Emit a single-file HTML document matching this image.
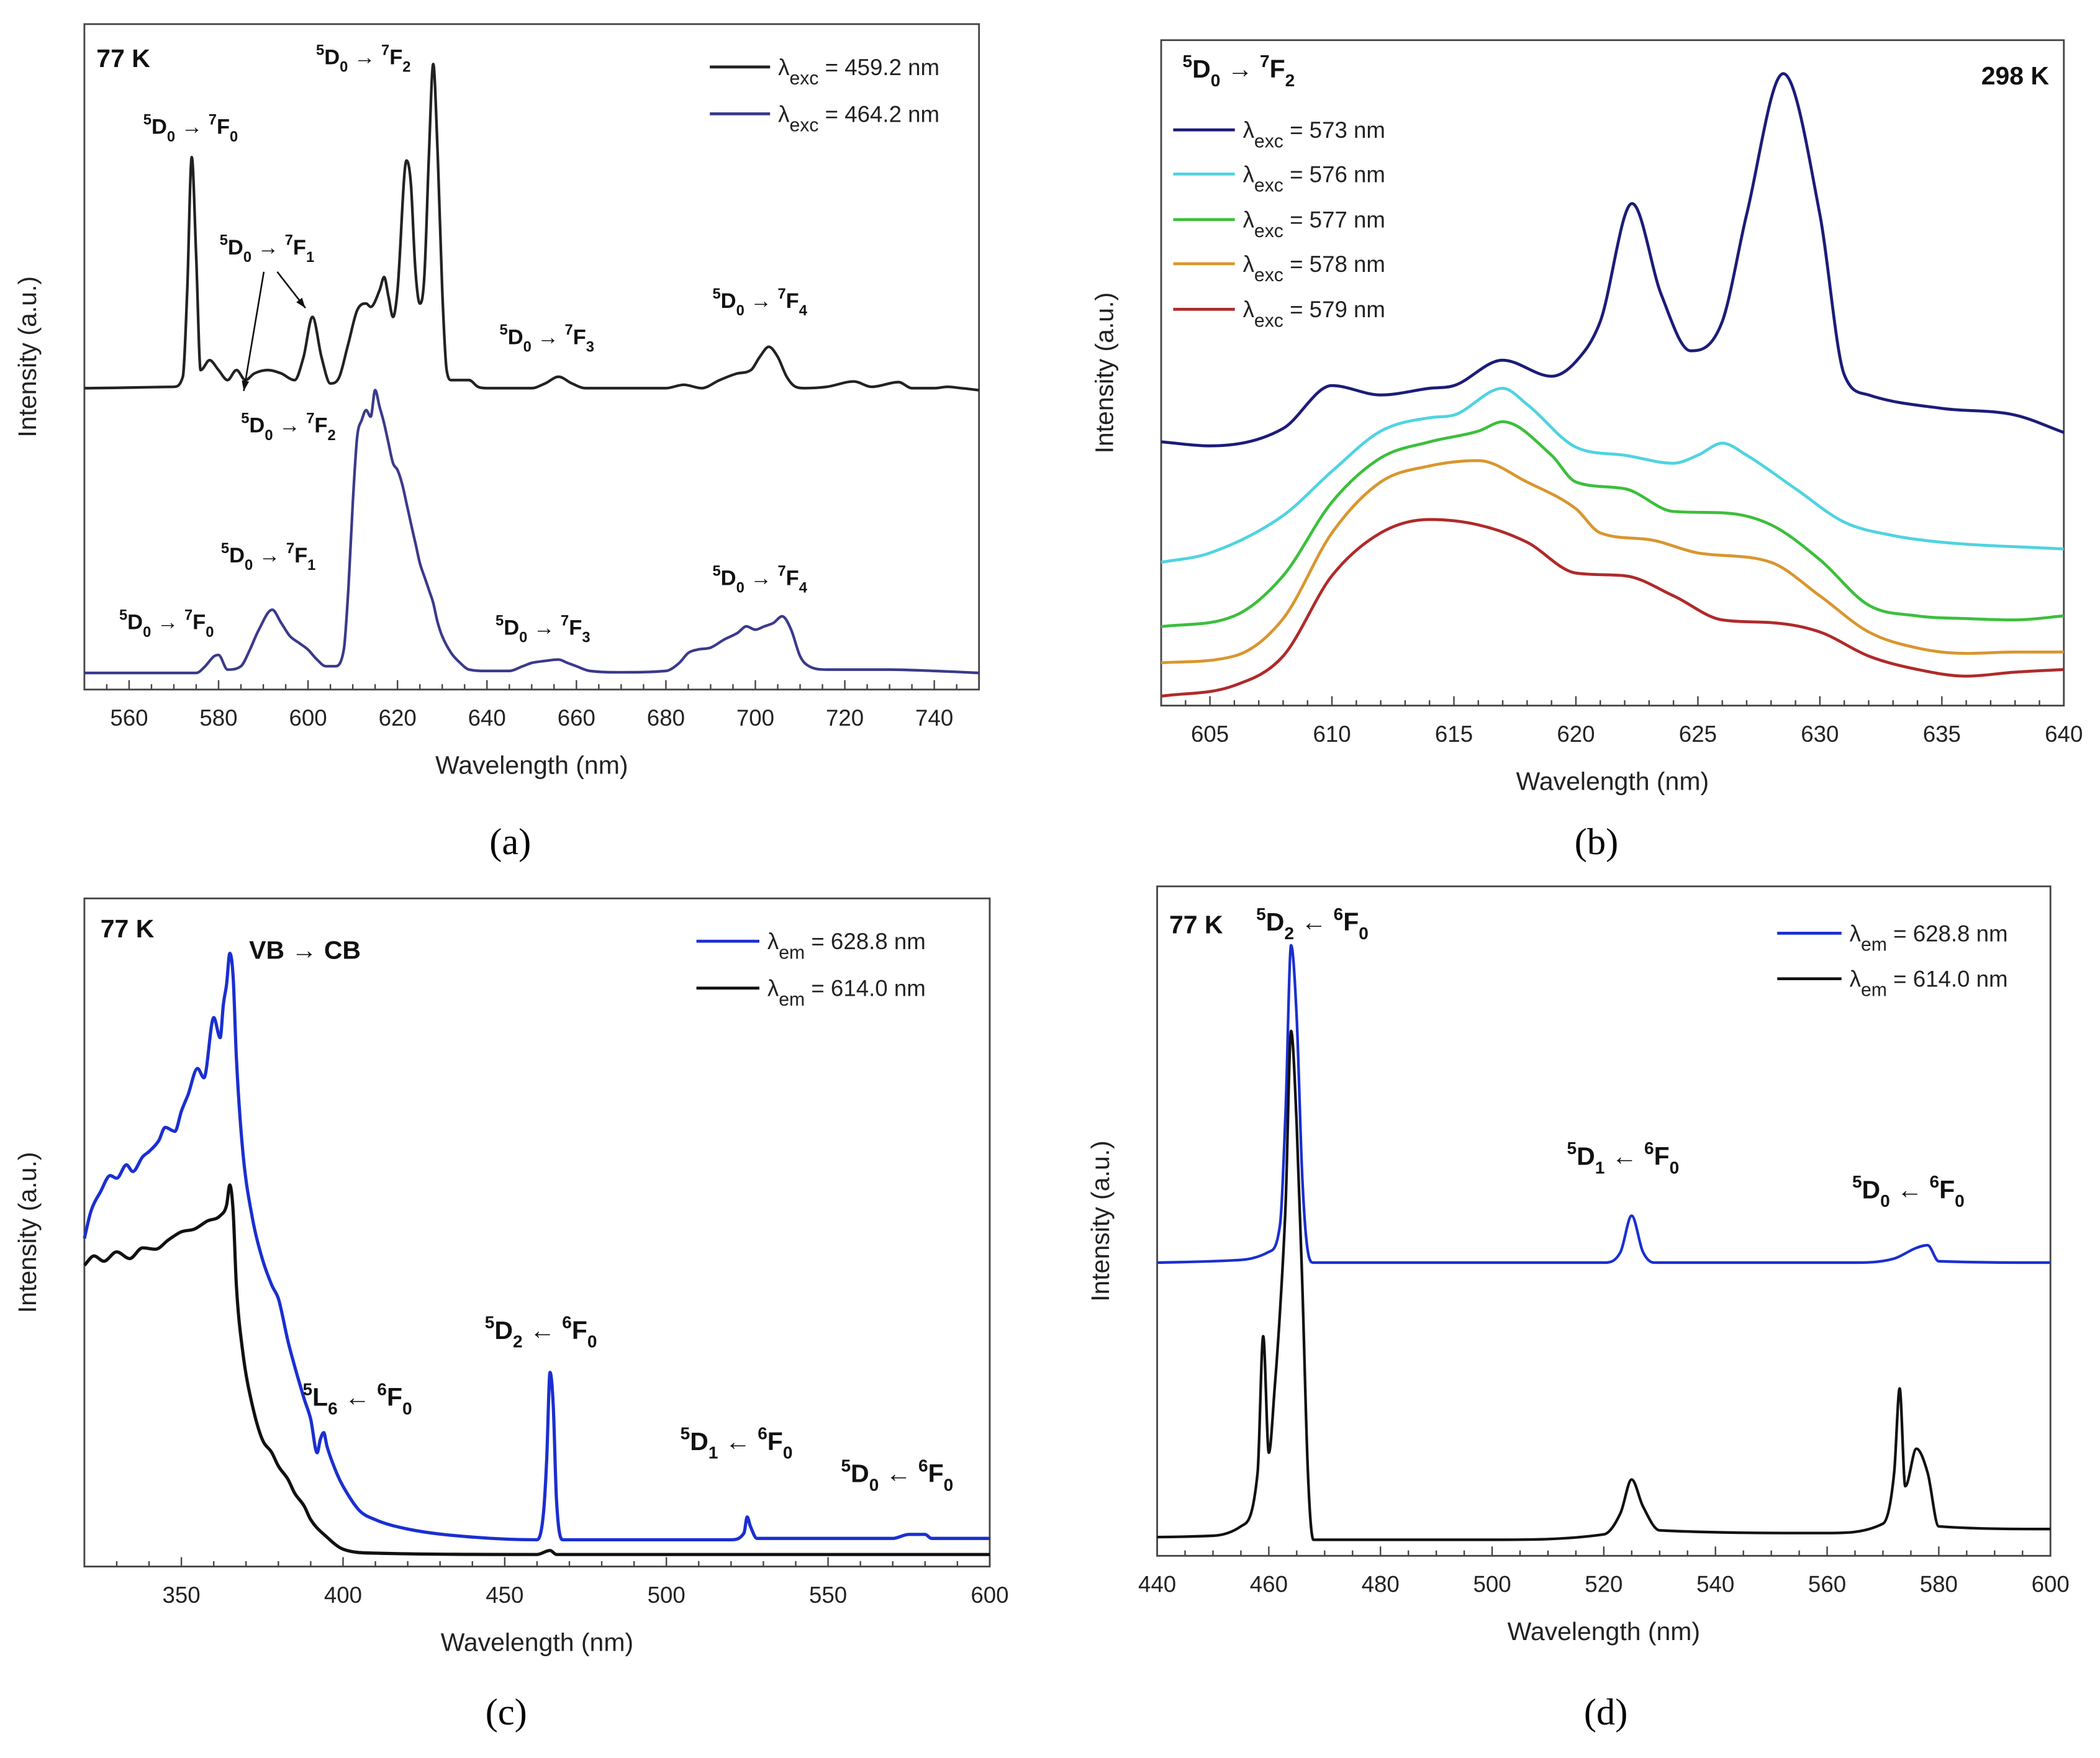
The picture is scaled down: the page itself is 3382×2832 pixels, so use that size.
<!DOCTYPE html>
<html><head><meta charset="utf-8">
<style>
html,body{margin:0;padding:0;background:#fff;}
svg{display:block;}
text{font-family:"Liberation Sans","DejaVu Sans",sans-serif;fill:#111;}
.tick{font-size:17px;fill:#222;}
.title{font-size:19px;fill:#222;}
.ann{font-size:16px;font-weight:bold;}
.big{font-size:19px;font-weight:bold;}
.leg{font-size:17px;fill:#222;}
.plab{font-family:"Liberation Serif",serif;font-size:28px;fill:#000;}
</style></head>
<body>
<svg id="fig" width="3382" height="2832" viewBox="0 0 1568 1313" preserveAspectRatio="none" xmlns="http://www.w3.org/2000/svg">
<rect width="1568" height="1313" fill="#fff"/>
</svg>
<script>
// ---------- Panel (a) data: wavelength (nm) and intensity (% of plot height) ----------
const aBlackX=[550,570,572,573,574,575,576,578,580,582,584,586,588,591,594,597,599,601,603,605,607,609,611,613,614,616,617,618,619,620,622,623,624,625,626,627,628,629,630,631,632,636,638,640,650,653,656,659,662,680,684,688,692,696,699,701,703,705,707,709,711,716,722,726,732,735,740,743,746,750];
const aBlackY=[45.3,45.5,47,60,80,65,48,49.5,48,46.5,48,46.5,47.5,48,47.5,46.5,50,56,50,46,47,52,57,58,57.5,60,62,59,56,60,79.5,76,63,58,62,80,94,80,60,48,46.5,46.5,45.5,45.3,45.3,46,47,46,45.3,45.3,45.8,45.3,46.5,47.5,48,50,51.5,50,47,45.5,45.3,45.5,46.3,45.5,46.2,45.3,45.3,45.5,45.3,45];
const aBlueX=[550,575,577,579,580,582,585,587,589,592,594,596,598,600,602,604,606,608,609,610,611,612,613,614,615,616,617,618,619,620,621,622,623,624,625,626,627,628,629,630,632,634,636,640,645,648,650,653,656,658,660,663,670,680,683,685,687,690,693,696,698,700,702,704,706,708,710,712,716,730,740,750];
const aBlueY=[2.5,2.5,3.5,5,5.2,3,3.5,6,9,12,10,8,7,6,4.5,3.5,3.5,6,15,28,38,40.5,42,41,45,42.5,40,37,34,33,31,28,25,22,19,17,15,13,10,8,5.5,4,3,2.8,2.8,3.5,4,4.3,4.5,4,3.5,2.8,2.6,2.8,4,5.5,6,6.3,7.5,8.5,9.5,9,9.5,10,11,9,5,3.5,3,3,2.8,2.5];
const aTicks=[560,580,600,620,640,660,680,700,720,740];

// ---------- Panel (b) data (intensity, arbitrary units 0..497) ----------
const bX1=[603,605,608,610,612,614,615,617,619,620,621,622.3,623.5,624.7,626,627,628.5,630,631,632,635,638,640];
const bY1=[197,194,207,239,232,237,239,258,246,257,287,375,307,265,287,367,472,367,247,232,222,217,204];
const bX2=[603,605,608,610,612,614,615,617,618,620,622,624,625,626,627,629,631,633,635,640];
const bY2=[107,114,142,175,205,215,217,237,225,193,187,181,187,196,187,162,137,127,122,117];
const bX3=[603,606,608,610,612,614,616,617,619,620,622,624,626,628,630,632,634,636,638,640];
const bY3=[59,67,97,152,185,197,205,212,187,167,162,145,144,135,109,75,67,65,64,67];
const bX4=[603,606,608,610,612,614,616,618,620,621,623,625,628,630,632,634,636,638,640];
const bY4=[32,37,65,129,167,179,183,167,147,129,124,114,107,82,55,43,39,40,40];
const bX5=[603,606,608,610,612,614,616,618,620,622,624,626,628,630,632,634,636,638,640];
const bY5=[7,15,37,97,129,139,135,122,99,97,82,64,62,55,37,27,22,25,27];
const bTicks=[605,610,615,620,625,630,635,640];

// ---------- Panel (c) data (intensity 0..499) ----------
const cBlueX=[320,322,325,328,330,333,335,338,340,343,345,348,350,352,355,357,360,362,363,364,365,366,367,369,372,375,378,380,383,385,388,390,392,393,394,395,398,400,405,410,420,440,460,462,463,464,465,466,468,520,524,525,526,528,570,575,580,582,600];
const cBlueY=[245,265,280,292,290,300,295,306,310,318,328,325,340,352,372,365,410,395,420,435,458,440,380,310,260,230,210,200,168,150,125,110,85,95,100,90,70,60,42,35,28,22,20,40,80,145,120,50,20,20,25,37,30,21,21,24,24,21,21];
const cBlackX=[320,323,326,330,334,338,342,346,350,354,358,362,364,365,366,367,369,372,375,378,380,383,385,388,390,395,400,410,460,464,466,600];
const cBlackY=[225,232,228,235,230,238,237,244,250,252,258,262,270,285,265,210,160,120,95,85,75,65,55,45,35,22,13,10,9,12,9,9];
const cTicks=[350,400,450,500,550,600];

// ---------- Panel (d) data (intensity 0..500) ----------
const dBlueX=[440,455,460,462,463,464,465,466,467,468,520,523,525,527,529,565,572,576,578,580,600];
const dBlueY=[219,221,227,247,332,456,402,282,227,219,219,227,254,227,219,219,222,230,232,220,219];
const dBlackX=[440,450,455,458,459,460,461,462,463,464,465,466,467,468,500,520,523,525,527,530,560,570,572,573,574,576,578,580,600];
const dBlackY=[14,15,22,62,164,77,122,182,262,392,322,202,62,12,12,16,32,57,37,19,17,24,62,125,52,80,62,22,20];
const dTicks=[440,460,480,500,520,540,560,580,600];

const NS="http://www.w3.org/2000/svg";
const svg=document.getElementById('fig');
function el(tag,attrs,parent){const e=document.createElementNS(NS,tag);for(const k in attrs)e.setAttribute(k,attrs[k]);(parent||svg).appendChild(e);return e;}

function makeAxes(p){
  const xs=v=>p.l+(v-p.x0)/(p.x1-p.x0)*(p.r-p.l);
  const ys=v=>p.b-(v-p.y0)/(p.y1-p.y0)*(p.b-p.t);
  return {xs,ys};
}
function panel(p,id){
  const g=el('g',{});
  
  
  const box=el('rect',{x:p.l,y:p.t,width:p.r-p.l,height:p.b-p.t,fill:'none',stroke:'#444','stroke-width':1.3},g);
  
  
  const {xs}=makeAxes(p);
  for(let v=p.x0;v<=p.x1+1e-6;v+=p.minor){
    const isMaj=p.ticks.some(t=>Math.abs(t-v)<1e-6);
    const x=xs(v);
    const tk=el('line',{x1:x,x2:x,y1:p.b,y2:p.b-(isMaj?7:4),stroke:'#444','stroke-width':1.1},g);
    
    
  }
  p.ticks.forEach(t=>{
    const tx=el('text',{x:xs(t),y:p.b+27,'text-anchor':'middle',class:'tick'},g);
    tx.textContent=t;
    
    
  });
  const xt=el('text',{x:(p.l+p.r)/2,y:p.b+63,'text-anchor':'middle',class:'title'},g);
  xt.textContent='Wavelength (nm)';
  
  
  const yx=p.l-36, yy=(p.t+p.b)/2;
  const yt=el('text',{x:yx,y:yy,'text-anchor':'middle',class:'title',transform:`rotate(-90 ${yx} ${yy})`},g);
  yt.textContent='Intensity (a.u.)';
  
  
  const pl=el('text',{x:p.lx,y:p.ly,'text-anchor':'middle',class:'plab'},g);
  pl.textContent='('+id.slice(-1)+')';
  
  
  return g;
}
// monotone cubic path
function monoPath(px,py){
  const n=px.length;
  if(n<3) return px.map((x,i)=>(i?'L':'M')+x+' '+py[i]).join(' ');
  const d=[],m=new Array(n);
  for(let i=0;i<n-1;i++) d.push((py[i+1]-py[i])/(px[i+1]-px[i]));
  m[0]=d[0];m[n-1]=d[n-2];
  for(let i=1;i<n-1;i++){ m[i]=(d[i-1]*d[i]<=0)?0:(d[i-1]+d[i])/2; }
  for(let i=0;i<n-1;i++){
    if(d[i]===0){m[i]=0;m[i+1]=0;continue;}
    const a=m[i]/d[i],b=m[i+1]/d[i],s=a*a+b*b;
    if(s>9){const t=3/Math.sqrt(s);m[i]=t*a*d[i];m[i+1]=t*b*d[i];}
  }
  let s='M'+px[0].toFixed(1)+' '+py[0].toFixed(1);
  for(let i=0;i<n-1;i++){
    const h=(px[i+1]-px[i])/3;
    s+=` C${(px[i]+h).toFixed(1)} ${(py[i]+m[i]*h).toFixed(1)} ${(px[i+1]-h).toFixed(1)} ${(py[i+1]-m[i+1]*h).toFixed(1)} ${px[i+1].toFixed(1)} ${py[i+1].toFixed(1)}`;
  }
  return s;
}
function series(p,X,Y,color,name,w){
  const {xs,ys}=makeAxes(p);
  const d=monoPath(X.map(xs),Y.map(ys));
  const path=el('path',{d,fill:'none',stroke:color,'stroke-width':w||2,'stroke-linejoin':'round'});
  
  
}
function legend(x1,x2,y,color,sym,sub,rest,name){
  const ln=el('line',{x1,x2,y1:y,y2:y,stroke:color,'stroke-width':2.2});
  
  
  const t=el('text',{x:x2+6,y:y+6,class:'leg'});
  
  
  const a=el('tspan',{},t);a.textContent=sym;
  const b=el('tspan',{dy:7,'font-size':14},t);b.textContent=sub;
  const c=el('tspan',{dy:-7},t);c.textContent=rest;
}
function trans(x,y,s1,L1,b1,arrow,s2,L2,b2,name,cls){
  const big=cls==='big';
  const t=el('text',{x,y,class:cls||'ann'});
  
  
  const sd=big?8:7, fs=big?13:11;
  const parts=[[s1,-sd,fs],[L1,sd,null],[b1,sd*0.8,fs],[arrow,-sd*0.8,null],[s2,-sd,fs],[L2,sd,null],[b2,sd*0.8,fs]];
  parts.forEach(([txt,dy,f])=>{const s=el('tspan',{dy},t);if(f)s.setAttribute('font-size',f);s.textContent=txt;});
}
function label(x,y,txt,name,cls,anchor){
  const t=el('text',{x,y,class:cls||'big','text-anchor':anchor||'start'});
  t.textContent=txt;
  
  
}
function arrowLine(x1,y1,x2,y2,name){
  const l=el('line',{x1,y1,x2,y2,stroke:'#111','stroke-width':1.2});
  
  
  const a=Math.atan2(y2-y1,x2-x1),h=8;
  const p=el('polygon',{points:`${x2},${y2} ${x2-h*Math.cos(a-0.35)},${y2-h*Math.sin(a-0.35)} ${x2-h*Math.cos(a+0.35)},${y2-h*Math.sin(a+0.35)}`,fill:'#111'});
  
  
}

// ---- Panel a ----
const pA={l:63,r:731,t:18,b:515,x0:550,x1:750,y0:0,y1:100,minor:5,ticks:aTicks,lx:381,ly:638};
panel(pA,'panel-a');
series(pA,aBlackX,aBlackY,'#222','series-a-459nm',2);
series(pA,aBlueX,aBlueY,'#3a3a8c','series-a-464nm',2);
label(72,50,'77 K','label-a-77k');
legend(530,575,50,'#222','λ','exc',' = 459.2 nm','legend-a-459nm');
legend(530,575,85,'#3a3a8c','λ','exc',' = 464.2 nm','legend-a-464nm');
trans(107,100,'5','D','0',' → ','7','F','0','ann-a-f0-top');
trans(236,48,'5','D','0',' → ','7','F','2','ann-a-f2-top');
trans(164,190,'5','D','0',' → ','7','F','1','ann-a-f1-top');
arrowLine(197,203,182,292,'arrow-a-f1-1');
arrowLine(207,203,228,230,'arrow-a-f1-2');
trans(373,257,'5','D','0',' → ','7','F','3','ann-a-f3-top');
trans(532,230,'5','D','0',' → ','7','F','4','ann-a-f4-top');
trans(180,323,'5','D','0',' → ','7','F','2','ann-a-f2-bottom');
trans(165,420,'5','D','0',' → ','7','F','1','ann-a-f1-bottom');
trans(89,470,'5','D','0',' → ','7','F','0','ann-a-f0-bottom');
trans(370,474,'5','D','0',' → ','7','F','3','ann-a-f3-bottom');
trans(532,437,'5','D','0',' → ','7','F','4','ann-a-f4-bottom');

// ---- Panel b ----
const pB={l:867,r:1541,t:30,b:527,x0:603,x1:640,y0:0,y1:497,minor:1,ticks:bTicks,lx:1192,ly:638};
panel(pB,'panel-b');
series(pB,bX1,bY1,'#1c1c7a','series-b-573nm',2.2);
series(pB,bX2,bY2,'#4fd3e0','series-b-576nm',2.2);
series(pB,bX3,bY3,'#3cbf3c','series-b-577nm',2.2);
series(pB,bX4,bY4,'#d9962e','series-b-578nm',2.2);
series(pB,bX5,bY5,'#b02a2a','series-b-579nm',2.2);
trans(883,58,'5','D','0',' → ','7','F','2','ann-b-f2','big');
label(1530,63,'298 K','label-b-298k','big','end');
legend(876,922,97,'#1c1c7a','λ','exc',' = 573 nm','legend-b-573nm');
legend(876,922,130,'#4fd3e0','λ','exc',' = 576 nm','legend-b-576nm');
legend(876,922,164,'#3cbf3c','λ','exc',' = 577 nm','legend-b-577nm');
legend(876,922,197,'#d9962e','λ','exc',' = 578 nm','legend-b-578nm');
legend(876,922,231,'#b02a2a','λ','exc',' = 579 nm','legend-b-579nm');

// ---- Panel c ----
const pC={l:63,r:739,t:671,b:1170,x0:320,x1:600,y0:0,y1:499,minor:10,ticks:cTicks,lx:378,ly:1288};
panel(pC,'panel-c');
series(pC,cBlueX,cBlueY,'#1a2fd0','series-c-628nm',2.4);
series(pC,cBlackX,cBlackY,'#111','series-c-614nm',2.4);
label(75,700,'77 K','label-c-77k');
label(186,716,'VB → CB','ann-c-vb-cb','big');
legend(520,567,703,'#1a2fd0','λ','em',' = 628.8 nm','legend-c-628nm');
legend(520,567,738,'#111','λ','em',' = 614.0 nm','legend-c-614nm');
trans(362,1000,'5','D','2',' ← ','6','F','0','ann-c-d2','big');
trans(226,1050,'5','L','6',' ← ','6','F','0','ann-c-l6','big');
trans(508,1083,'5','D','1',' ← ','6','F','0','ann-c-d1','big');
trans(628,1107,'5','D','0',' ← ','6','F','0','ann-c-d0','big');

// ---- Panel d ----
const pD={l:864,r:1531,t:662,b:1162,x0:440,x1:600,y0:0,y1:500,minor:5,ticks:dTicks,lx:1199,ly:1288};
panel(pD,'panel-d');
series(pD,dBlueX,dBlueY,'#1a2fd0','series-d-628nm',2);
series(pD,dBlackX,dBlackY,'#111','series-d-614nm',2);
label(873,697,'77 K','label-d-77k');
trans(938,695,'5','D','2',' ← ','6','F','0','ann-d-d2','big');
trans(1170,870,'5','D','1',' ← ','6','F','0','ann-d-d1','big');
trans(1383,895,'5','D','0',' ← ','6','F','0','ann-d-d0','big');
legend(1327,1375,697,'#1a2fd0','λ','em',' = 628.8 nm','legend-d-628nm');
legend(1327,1375,731,'#111','λ','em',' = 614.0 nm','legend-d-614nm');
</script>
</body></html>
